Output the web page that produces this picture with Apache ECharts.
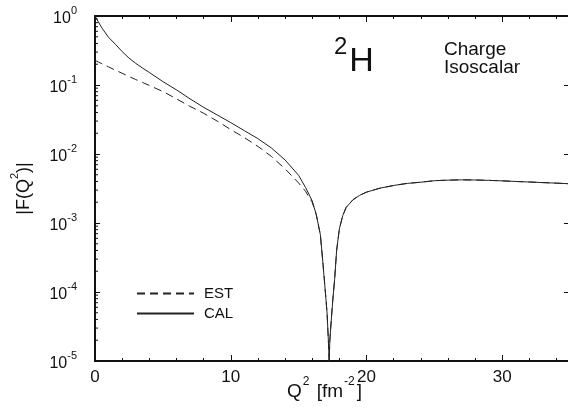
<!DOCTYPE html>
<html>
<head>
<meta charset="utf-8">
<title>2H charge isoscalar form factor</title>
<script src="https://cdn.jsdelivr.net/npm/echarts@6/dist/echarts.min.js"></script>
<style>
  html, body { margin: 0; padding: 0; background: #fff; }
  #chart { width: 568px; height: 412px; }
</style>
</head>
<body>
<div id="chart"></div>
<script>
// Q^2 [fm^-2]
var qsq = [0, 0.25, 0.5, 1, 1.5, 2, 2.5, 3, 3.5, 4, 5, 6, 7, 8, 9, 10, 11, 12, 13, 14, 15, 15.5, 16,
  16.3, 16.6, 16.8, 17.0, 17.1, 17.2, 17.25, 17.3, 17.4, 17.5, 17.65, 17.8, 18.0, 18.25, 18.5,
  19, 19.5, 20, 21, 22, 23, 24, 25, 26, 27, 28, 29, 30, 31, 32, 33, 34, 35];
// |F(Q^2)| estimate (dashed)
var est = [0.227, 0.215, 0.204, 0.183, 0.164, 0.148, 0.133, 0.120, 0.109, 0.0985, 0.0805, 0.063, 0.049,
  0.039, 0.030, 0.0226, 0.0173, 0.0129, 0.0092, 0.0061, 0.0038, 0.0029, 0.0020,
  0.00132, 0.00068, 0.00025, 0.000085, 0.000048, 0.000018, 0.00001, 0.00002, 0.000038, 0.00007,
  0.00015, 0.0004, 0.00082, 0.00128, 0.00168, 0.00217, 0.00252, 0.0028, 0.0032, 0.0035, 0.00375,
  0.0039, 0.0041, 0.00418, 0.00422, 0.0042, 0.00415, 0.00408, 0.004, 0.00393, 0.00385, 0.00378, 0.0037];
// |F(Q^2)| calculated (solid)
var cal = [1.0, 0.82, 0.675, 0.49, 0.39, 0.305, 0.246, 0.206, 0.176, 0.152, 0.112, 0.085, 0.063,
  0.0475, 0.0368, 0.0285, 0.0218, 0.0167, 0.0122, 0.0082, 0.0049, 0.0033, 0.0021,
  0.00132, 0.00068, 0.00025, 0.000085, 0.000048, 0.000018, 0.00001, 0.00002, 0.000038, 0.00007,
  0.00015, 0.0004, 0.00082, 0.00128, 0.00168, 0.00217, 0.00252, 0.0028, 0.0032, 0.0035, 0.00375,
  0.0039, 0.0041, 0.00418, 0.00422, 0.0042, 0.00415, 0.00408, 0.004, 0.00393, 0.00385, 0.00378, 0.0037];
var seriesNames = ["EST", "CAL"];
var decades = [-5, -4, -3, -2, -1];
var minorSteps = [2, 3, 4, 5, 6, 7, 8, 9];

var font = "'Liberation Sans', Arial, sans-serif";
var ink = "#111";

// log minor ticks on the left axis
var minorTicks = [];
decades.forEach(function (k) {
  minorSteps.forEach(function (m) {
    minorTicks.push([0, m * Math.pow(10, k)]);
  });
});

var chart = echarts.init(document.getElementById("chart"));

var option = {
  animation: false,
  backgroundColor: "#fff",
  grid: {
    left: 95,
    right: -70,
    top: 16,
    bottom: 51,
    containLabel: false,
    outerBoundsMode: "none",
  },
  legend: {
    data: seriesNames,
    orient: "vertical",
    left: 136,
    top: 286,
    padding: 0,
    itemWidth: 57,
    itemHeight: 10,
    itemGap: 5,
    itemStyle: { opacity: 0 },
    textStyle: { fontFamily: font, fontSize: 15, color: ink, padding: [0, 0, 0, 5] },
  },
  graphic: [
    {
      type: "text",
      left: 334,
      top: 35,
      style: {
        text: "{s|2}{h|H}",
        rich: {
          s: { fontFamily: font, fontSize: 24, fill: ink, verticalAlign: "top" },
          h: { fontFamily: font, fontSize: 34, fill: ink, padding: [10, 0, 0, 2] },
        },
      },
    },
    {
      type: "text",
      left: 444,
      top: 40,
      style: {
        text: "Charge\nIsoscalar",
        fontFamily: font,
        fontSize: 19,
        lineHeight: 18,
        fill: ink,
      },
    },
  ],
  xAxis: [
    {
      type: "value",
      min: 0,
      max: 40,
      interval: 10,
      name: "{n|Q}{s|2}{n| [fm}{s|-2}{n|]}",
      nameLocation: "middle",
      nameGap: 15,
      nameMoveOverlap: false,
      nameTextStyle: {
        padding: [0, 84, 0, 0],
        rich: {
          n: { fontFamily: font, fontSize: 19, color: ink, padding: [6, 0, 0, 0] },
          s: { fontFamily: font, fontSize: 12, color: ink, verticalAlign: "top", padding: [0, 2, 0, 1] },
        },
      },
      axisLine: { lineStyle: { color: ink, width: 2 } },
      axisTick: { inside: true, length: 6, lineStyle: { color: ink, width: 1 } },
      minorTick: { show: true, splitNumber: 5, length: 3, lineStyle: { color: ink, width: 1 } },
      axisLabel: { margin: 8, fontFamily: font, fontSize: 17, color: ink, showMaxLabel: false },
      splitLine: { show: false },
    },
    {
      type: "value",
      position: "top",
      min: 0,
      max: 40,
      interval: 10,
      axisLine: { lineStyle: { color: ink, width: 2 } },
      axisTick: { inside: true, length: 6, lineStyle: { color: ink, width: 1 } },
      minorTick: { show: true, splitNumber: 5, length: 3, lineStyle: { color: ink, width: 1 } },
      axisLabel: { show: false },
      splitLine: { show: false },
    },
  ],
  yAxis: [
    {
      type: "log",
      logBase: 10,
      min: 0.00001,
      max: 1,
      name: "{n||F(Q}{s|2}{n|)|}",
      nameLocation: "middle",
      nameGap: 62,
      nameMoveOverlap: false,
      nameRotate: 90,
      nameTextStyle: {
        rich: {
          n: { fontFamily: font, fontSize: 18, color: ink, padding: [6, 0, 0, 0] },
          s: { fontFamily: font, fontSize: 11, color: ink, verticalAlign: "top" },
        },
      },
      axisLine: { lineStyle: { color: ink, width: 2 } },
      axisTick: { inside: true, length: 5, lineStyle: { color: ink, width: 1 } },
      axisLabel: {
        margin: 18,
        formatter: function (v) {
          return "{b|10}{s|" + Math.round(Math.log10(v)) + "}";
        },
        rich: {
          b: { fontFamily: font, fontSize: 16, color: ink, padding: [5, 0, 0, 0] },
          s: { fontFamily: font, fontSize: 11, color: ink, verticalAlign: "top" },
        },
      },
      splitLine: { show: false },
    },
    {
      type: "log",
      logBase: 10,
      position: "right",
      offset: -69,
      min: 0.00001,
      max: 1,
      axisLine: { show: false, onZero: false },
      axisTick: { inside: true, length: 5, lineStyle: { color: ink, width: 1 } },
      axisLabel: { show: false },
      splitLine: { show: false },
    },
  ],
  series: [
    {
      name: "EST",
      type: "line",
      symbol: "none",
      data: qsq.map(function (q, i) { return [q, est[i]]; }),
      lineStyle: { color: "#222", width: 1, type: [8, 5] },
      itemStyle: { color: "#222" },
      z: 3,
    },
    {
      name: "CAL",
      type: "line",
      symbol: "none",
      data: qsq.map(function (q, i) { return [q, cal[i]]; }),
      lineStyle: { color: "#222", width: 1 },
      itemStyle: { color: "#222" },
      z: 2,
    },
    {
      name: "minor",
      type: "custom",
      silent: true,
      clip: false,
      data: minorTicks,
      encode: { x: 0, y: 1 },
      renderItem: function (params, api) {
        var p = api.coord([api.value(0), api.value(1)]);
        return {
          type: "line",
          shape: { x1: p[0], y1: p[1], x2: p[0] + 3, y2: p[1] },
          style: { stroke: ink, lineWidth: 1 },
        };
      },
    },
  ],
};

chart.setOption(option);
window.addEventListener("resize", function () {
  chart.resize();
});
</script>
</body>
</html>
